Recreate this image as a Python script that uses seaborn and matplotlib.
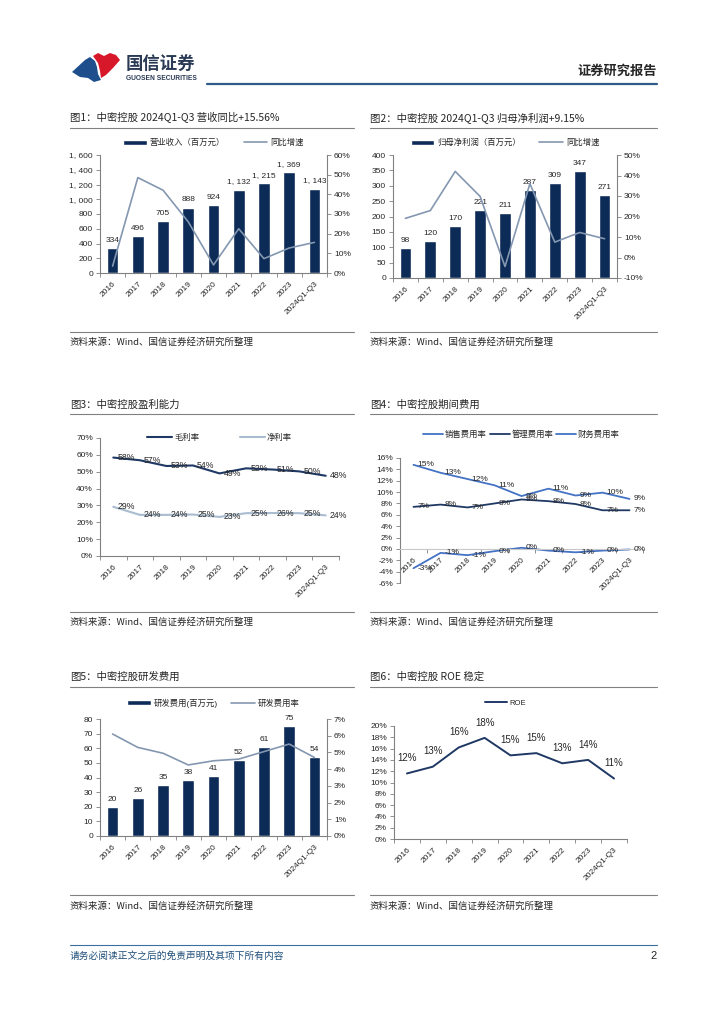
import numpy as np
import pandas as pd
import matplotlib
matplotlib.use('Agg')
import matplotlib.pyplot as plt
import seaborn as sns
from matplotlib.patches import Patch, Polygon
from matplotlib.lines import Line2D

years = ['2016', '2017', '2018', '2019', '2020', '2021', '2022', '2023', '2024Q1-Q3']
revenue = [334, 496, 705, 888, 924, 1132, 1215, 1369, 1143]
revenue_yoy = [3.5, 48.5, 42.1, 26.0, 4.1, 22.5, 7.3, 12.7, 15.56]
net_profit = [98, 120, 170, 221, 211, 287, 309, 347, 271]
net_profit_yoy = [19.1, 22.9, 42.0, 29.8, -4.4, 36.0, 7.5, 12.2, 9.15]
gross_margin = [58.4, 56.8, 53.4, 53.7, 49.0, 52.0, 51.3, 50.2, 47.6]
net_margin = [29.2, 24.4, 24.4, 24.6, 23.2, 25.4, 25.5, 25.4, 24.1]
sales_rate = [14.8, 13.4, 12.3, 11.2, 9.3, 10.6, 9.4, 9.9, 8.8]
admin_rate = [7.4, 7.8, 7.3, 8.0, 8.7, 8.4, 7.9, 6.8, 6.8]
finance_rate = [-3.4, -0.7, -1.1, -0.4, 0.2, -0.3, -0.6, -0.3, -0.1]
rd_expense = [20, 26, 35, 38, 41, 52, 61, 75, 54]
rd_rate = [6.1, 5.3, 4.95, 4.25, 4.5, 4.6, 5.05, 5.5, 4.7]
roe = [11.6, 12.8, 16.2, 17.9, 14.8, 15.2, 13.4, 14.0, 10.7]

titles = ['图1：中密控股 2024Q1-Q3 营收同比+15.56%',
          '图2：中密控股 2024Q1-Q3 归母净利润+9.15%',
          '图3：中密控股盈利能力',
          '图4：中密控股期间费用',
          '图5：中密控股研发费用',
          '图6：中密控股 ROE 稳定']
source = '资料来源：Wind、国信证券经济研究所整理'

W, H = 724, 1024
NAVY = '#0c2b57'
DARK = '#1f3864'
GREYBLUE = '#8497b0'
LIGHT = '#a9bcd0'
BLUE = '#4472c4'
GRAY = '#808080'
CJK = 'Noto Sans CJK SC'

sns.set_theme(style='ticks')
plt.rcParams['font.family'] = ['Liberation Sans', CJK]
plt.rcParams['axes.unicode_minus'] = False

fig = plt.figure(figsize=(W / 100, H / 100), dpi=100)
idx = np.arange(len(years))


def px_axes(x0, y0, x1, y1):
    return fig.add_axes([x0 / W, 1 - y1 / H, (x1 - x0) / W, (y1 - y0) / H])


def base_style(ax):
    for s in ['top', 'right']:
        ax.spines[s].set_visible(False)
    for s in ['left', 'bottom']:
        ax.spines[s].set_color(GRAY)
        ax.spines[s].set_linewidth(0.8)
    ax.tick_params(axis='y', length=3, width=0.6, color=GRAY, labelsize=6, pad=2)
    ax.set_xlabel('')
    ax.set_ylabel('')


def year_axis(ax):
    n = len(years)
    ax.set_xlim(-0.5, n - 0.5)
    ax.set_xticks(range(n))
    ax.set_xticklabels(years, rotation=45, ha='right', rotation_mode='anchor', fontsize=6)
    ax.set_xticks(np.arange(-0.5, n, 1), minor=True)
    ax.tick_params(axis='x', which='major', length=0, pad=5)
    ax.tick_params(axis='x', which='minor', length=3, width=0.6, color=GRAY)


def left_ticks(ax, lo, hi, step, fmt):
    ax.set_ylim(lo, hi)
    t = np.arange(lo, hi + step / 2, step)
    ax.set_yticks(t)
    ax.set_yticklabels([fmt(v) for v in t])


def right_axis(ax2, lo, hi, step, fmt):
    left_ticks(ax2, lo, hi, step, fmt)
    for s in ['top', 'left', 'bottom']:
        ax2.spines[s].set_visible(False)
    ax2.spines['right'].set_color(GRAY)
    ax2.spines['right'].set_linewidth(0.8)
    ax2.tick_params(axis='y', length=3, width=0.6, color=GRAY, labelsize=6, pad=2)
    ax2.set_ylabel('')


def thousands(v):
    return f'{int(v):,}'.replace(',', ', ')


def pct(v):
    return f'{int(round(v))}%'


def bar_line_chart(rect, bars, line, bar_lab, line_lab, left_lim, right_lim, bar_w,
                   leg_y, colspace):
    ax = px_axes(*rect)
    df = pd.DataFrame({'year': years, 'bar': bars, 'line': line})
    sns.barplot(data=df, x='year', y='bar', color=NAVY, saturation=1, width=bar_w, ax=ax)
    ax.bar_label(ax.containers[0], labels=[thousands(v) for v in bars], padding=3, fontsize=6)
    base_style(ax)
    left_ticks(ax, *left_lim, thousands)
    ax2 = ax.twinx()
    sns.lineplot(x=idx, y=df['line'], color=GREYBLUE, lw=1.2, ax=ax2)
    right_axis(ax2, *right_lim, pct)
    year_axis(ax)
    ax2.set_xlim(-0.5, len(years) - 0.5)
    handles = [Patch(facecolor=NAVY, label=bar_lab),
               Line2D([], [], color=GREYBLUE, lw=1.2, label=line_lab)]
    ax2.legend(handles=handles, loc='center', bbox_to_anchor=(0.5, leg_y), ncol=2,
               frameon=False, fontsize=6, handlelength=2.8, handleheight=0.6,
               handletextpad=0.4, columnspacing=colspace)
    return ax


# ---- Figura 1: receita ----
bar_line_chart((100, 155, 327, 273), revenue, revenue_yoy, '营业收入（百万元）', '同比增速',
               (0, 1600, 200), (0, 60, 10), 0.46, 1 + 12 / 118, 2.2)

# ---- Figura 2: lucro líquido ----
bar_line_chart((393, 155, 617, 278), net_profit, net_profit_yoy, '归母净利润（百万元）', '同比增速',
               (0, 400, 50), (-10, 50, 10), 0.47, 1 + 12 / 123, 2.2)

# ---- Figura 3: margens ----
ax3 = px_axes(100, 438, 339, 556)
sns.lineplot(x=idx, y=gross_margin, color=DARK, lw=1.5, ax=ax3)
sns.lineplot(x=idx, y=net_margin, color=LIGHT, lw=1.5, ax=ax3)
for i in idx:
    ax3.annotate(pct(gross_margin[i]), (i, gross_margin[i]), xytext=(3, 0),
                 textcoords='offset points', ha='left', va='center', fontsize=6.3)
    ax3.annotate(pct(net_margin[i]), (i, net_margin[i]), xytext=(3, 0),
                 textcoords='offset points', ha='left', va='center', fontsize=6.3)
base_style(ax3)
left_ticks(ax3, 0, 70, 10, pct)
year_axis(ax3)
ax3.legend(handles=[Line2D([], [], color=DARK, lw=1.5, label='毛利率'),
                    Line2D([], [], color=LIGHT, lw=1.5, label='净利率')],
           loc='center', bbox_to_anchor=(0.5, 1.0), ncol=2, frameon=False, fontsize=6,
           handlelength=3, handletextpad=0.3, columnspacing=4.8)

# ---- Figura 4: despesas ----
ax4 = px_axes(400, 458, 643, 583)
for vals, col in [(sales_rate, BLUE), (admin_rate, DARK), (finance_rate, BLUE)]:
    sns.lineplot(x=idx, y=vals, color=col, lw=1.3, ax=ax4)
    for i in idx:
        ax4.annotate(pct(vals[i]), (i, vals[i]), xytext=(3, 0), textcoords='offset points',
                     ha='left', va='center', fontsize=6)
base_style(ax4)
ax4.spines['bottom'].set_position(('data', 0))
ax4.spines['bottom'].set_color('#c8c8c8')
left_ticks(ax4, -6, 16, 2, pct)
year_axis(ax4)
ax4.legend(handles=[Line2D([], [], color=BLUE, lw=1.3, label='销售费用率'),
                    Line2D([], [], color=DARK, lw=1.3, label='管理费用率'),
                    Line2D([], [], color=BLUE, lw=1.3, label='财务费用率')],
           loc='center', bbox_to_anchor=(0.5, 1 + 23 / 125), ncol=3, frameon=False, fontsize=6,
           handlelength=2.4, handletextpad=0.25, columnspacing=0.3)

# ---- Figura 5: P&D ----
bar_line_chart((100, 719, 327, 836), rd_expense, rd_rate, '研发费用(百万元)', '研发费用率',
               (0, 80, 10), (0, 7, 1), 0.46, 1 + 16 / 117, 1.6)

# ---- Figura 6: ROE ----
ax6 = px_axes(394, 726, 627, 839)
sns.lineplot(x=idx, y=roe, color=DARK, lw=1.4, ax=ax6)
for i in idx:
    ax6.annotate(pct(roe[i]), (i, roe[i]), xytext=(0, 11), textcoords='offset points',
                 ha='center', va='center', fontsize=7)
base_style(ax6)
left_ticks(ax6, 0, 20, 2, pct)
year_axis(ax6)
ax6.legend(handles=[Line2D([], [], color=DARK, lw=1.4, label='ROE')], loc='center',
           bbox_to_anchor=(0.48, 1 + 23 / 113), frameon=False, fontsize=5.5,
           handlelength=2.8, handletextpad=0.4)

# ---- página: cabeçalho, títulos, fontes, rodapé ----
pg = fig.add_axes([0, 0, 1, 1], zorder=-1)
pg.set_xlim(0, W)
pg.set_ylim(H, 0)
pg.axis('off')

pg.add_patch(Polygon([(72, 72), (85, 60), (90, 57), (95, 61), (97, 67), (98, 74), (101, 80),
                      (94, 82), (88, 78), (80, 77)], closed=True, color='#1f4e8c', lw=0))
pg.add_patch(Polygon([(93, 56), (98, 53), (104, 56), (110, 53), (116, 55), (120, 60), (113, 68),
                      (106, 75), (101, 78), (100, 71), (98, 63)], closed=True, color='#d7182a', lw=0))
pg.text(126, 64, '国信证券', fontsize=12.5, fontweight='bold', color='#2a3a55', va='center', family=CJK)
pg.text(126, 78, 'GUOSEN SECURITIES', fontsize=4.8, fontweight='bold', color='#2a3a55', va='center')
pg.text(657, 71, '证券研究报告', fontsize=9.5, fontweight='bold', ha='right', va='center', family=CJK)
pg.plot([207, 657], [84, 84], color='#2e5c8a', lw=1.6)

blocks = [(70, 354), (370, 657)]
rows = [(118, 128, 332, 342), (405, 414, 612, 622), (677, 687, 895, 906)]
for r, (ty, uy, sy, sty) in enumerate(rows):
    for c, (x0, x1) in enumerate(blocks):
        pg.text(x0, ty, titles[r * 2 + c], fontsize=7.5, va='center', family=CJK)
        pg.plot([x0, x1], [uy, uy], color=GRAY, lw=0.8)
        pg.plot([x0, x1], [sy, sy], color=GRAY, lw=0.8)
        pg.text(x0, sty, source, fontsize=6.8, va='center', family=CJK)

pg.plot([70, 657], [945, 945], color='#3a6fa0', lw=0.8)
pg.text(70, 956, '请务必阅读正文之后的免责声明及其项下所有内容', fontsize=7, color='#1f4e79',
        va='center', family=CJK, style='italic')
pg.text(657, 956, '2', fontsize=8, ha='right', va='center')

fig.savefig('out.png', dpi=100)
